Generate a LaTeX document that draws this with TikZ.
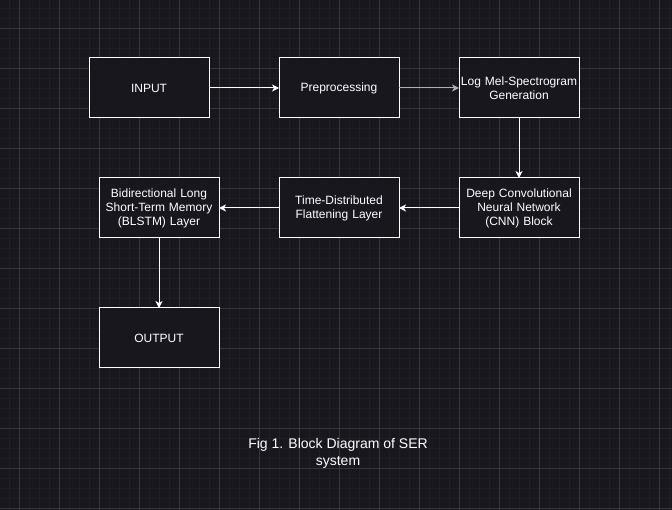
\documentclass[tikz,border=0pt]{standalone}
\usepackage{fontspec}
\setmainfont{Liberation Sans}
\usetikzlibrary{positioning, arrows.meta}
\definecolor{canvas}{HTML}{18171E}
\definecolor{gridminor}{HTML}{1F1E25}
\definecolor{gridmajor}{HTML}{36353C}
\definecolor{linegrey}{HTML}{B0B0B0}
\tikzstyle{block} = [rectangle, minimum width=120pt, minimum height=60pt, text width=118pt, align=center, draw=white, fill=canvas, text=white, line width=1pt, inner sep=0pt, outer sep=0pt, font=\fontsize{12pt}{14pt}\selectfont]
\tikzstyle{arrow} = [white, line width=1pt, -{Stealth[length=7pt, width=7pt, inset=2pt]}]
\tikzstyle{caption} = [text=white, align=center, font=\fontsize{14pt}{17pt}\selectfont]

\begin{document}
\begin{tikzpicture}[x=1pt, y=-1pt, node distance=60pt]

% canvas and grid
\useasboundingbox (0,0) rectangle (672,510);
\fill [canvas] (0,0) rectangle (672,510);
\foreach \x in {9,19,...,669} \draw [gridminor, line width=0.6pt] (\x,0) -- (\x,510);
\foreach \y in {8,18,...,508} \draw [gridminor, line width=0.6pt] (0,\y) -- (672,\y);
\foreach \x in {19,59,...,659} \draw [gridmajor, line width=0.8pt] (\x,0) -- (\x,510);
\foreach \y in {28,68,...,508} \draw [gridmajor, line width=0.8pt] (0,\y) -- (672,\y);

\node (input) [block] at (149,88) {INPUT};
\node (prep) [block, right=70pt of input] {Preprocessing};
\draw [arrow] (input) -- (prep);
\node (logmel) [block, right of=prep, node distance=180pt] {Log Mel-Spectrogram\\Generation};
\draw [arrow, linegrey] (prep) -- (logmel);
\node (cnn) [block, below of=logmel, node distance=120pt] {Deep Convolutional\\Neural Network\\(CNN) Block};
\draw [arrow] (logmel) -- (cnn);
\node (flat) [block, left of=cnn, node distance=180pt] {Time-Distributed\\Flattening Layer};
\draw [arrow] (cnn) -- (flat);
\node (blstm) [block, left of=flat, node distance=180pt] {Bidirectional Long\\Short-Term Memory\\(BLSTM) Layer};
\draw [arrow] (flat) -- (blstm);
\node (output) [block, below of=blstm, node distance=130pt] {OUTPUT};
\draw [arrow] (blstm) -- (output);

\node (cap) [caption] at (338,453) {Fig 1. Block Diagram of SER\\system};

\end{tikzpicture}
\end{document}
